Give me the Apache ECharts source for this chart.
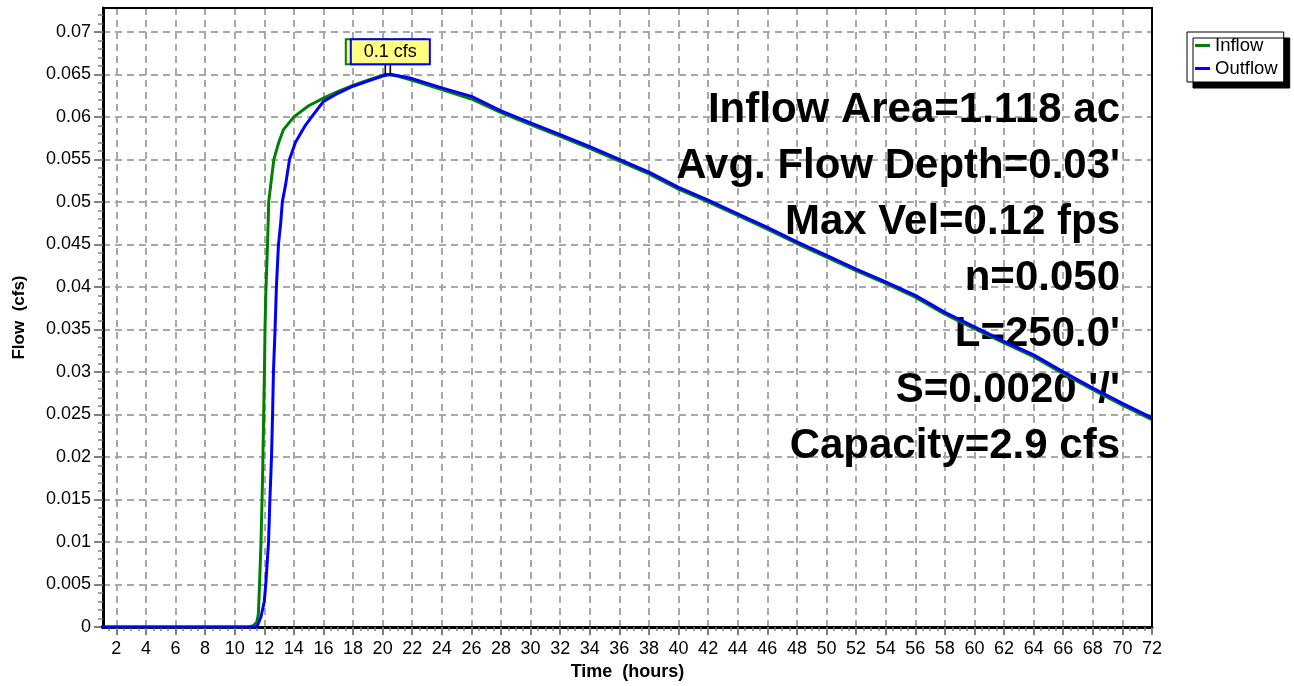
<!DOCTYPE html>
<html>
<head>
<meta charset="utf-8">
<title>Hydrograph</title>
<script src="https://cdn.jsdelivr.net/npm/echarts@6/dist/echarts.min.js"></script>
<style>
  html, body { margin: 0; padding: 0; background: #ffffff; }
  #chart { width: 1294px; height: 686px; }
</style>
</head>
<body>
<div id="chart"></div>
<script>
// Reach hydrograph: inflow vs. routed outflow (cfs) over a 72-hour storm

const inflowHours = [0, 11.0, 11.3, 11.5, 11.6, 11.68, 11.78, 11.89, 11.96, 12.02, 12.05, 12.1, 12.22, 12.3, 12.47, 12.65, 12.98, 13.3, 14.0, 15.0, 16.0, 17.0, 18.0, 19.0, 20.18, 21.0, 22, 24, 26, 28, 30, 32, 34, 36, 38, 40, 42, 44, 46, 48, 50, 52, 54, 56, 58, 60, 62, 64, 66, 68, 70, 72];
const inflowCfs = [0, 0, 0.0002, 0.0006, 0.0015, 0.005, 0.010, 0.018, 0.025, 0.031, 0.035, 0.039, 0.045, 0.050, 0.0525, 0.055, 0.057, 0.0585, 0.0600, 0.0613, 0.0622, 0.0630, 0.0637, 0.0643, 0.0650, 0.0648, 0.0643, 0.0632, 0.0621, 0.0605, 0.0591, 0.0577, 0.0563, 0.0548, 0.0533, 0.0515, 0.0500, 0.0484, 0.0468, 0.0451, 0.0435, 0.0419, 0.0404, 0.0388, 0.0368, 0.0351, 0.0334, 0.0318, 0.0298, 0.0279, 0.0261, 0.0244];

const outflowHours = [0, 11.5, 11.78, 12.0, 12.1, 12.29, 12.38, 12.49, 12.56, 12.62, 12.73, 12.82, 12.96, 13.11, 13.22, 13.44, 13.71, 14.11, 14.78, 15.2, 16.0, 17.0, 18.0, 19.0, 20.0, 20.52, 22, 24, 26, 28, 30, 32, 34, 36, 38, 40, 42, 44, 46, 48, 50, 52, 54, 56, 58, 60, 62, 64, 66, 68, 70, 72];
const outflowCfs = [0, 0, 0.0012, 0.003, 0.005, 0.010, 0.015, 0.020, 0.025, 0.030, 0.035, 0.040, 0.045, 0.0475, 0.050, 0.052, 0.055, 0.057, 0.059, 0.0600, 0.0618, 0.0628, 0.0636, 0.0642, 0.0648, 0.0650, 0.0645, 0.0634, 0.0624, 0.0607, 0.0593, 0.0579, 0.0565, 0.0550, 0.0535, 0.0517, 0.0502, 0.0486, 0.0470, 0.0453, 0.0437, 0.0421, 0.0406, 0.0390, 0.0370, 0.0353, 0.0336, 0.0320, 0.0300, 0.0281, 0.0263, 0.0246];

const timeTickLabels = [2, 4, 6, 8, 10, 12, 14, 16, 18, 20, 22, 24, 26, 28, 30, 32, 34, 36, 38, 40, 42, 44, 46, 48, 50, 52, 54, 56, 58, 60, 62, 64, 66, 68, 70, 72];

const reachNotes = [
  'Inflow Area=1.118 ac',
  "Avg. Flow Depth=0.03'",
  'Max Vel=0.12 fps',
  'n=0.050',
  "L=250.0'",
  "S=0.0020 '/'",
  'Capacity=2.9 cfs'
];

const FONT = '"Liberation Sans", Arial, Helvetica, sans-serif';
const TIME_MIN = 1.1, TIME_MAX = 72;
const FLOW_MAX = 0.0728;

function pairs(xs, ys) { return xs.map((x, i) => [x, ys[i]]); }

// minor tick positions (every half hour / every 0.001 cfs)
const minorTimeTicks = [];
for (let t = 1.5; t <= TIME_MAX + 1e-9; t += 0.5) minorTimeTicks.push(+t.toFixed(2));
const minorFlowTicks = [];
for (let i = 0; i <= 72; i++) minorFlowTicks.push(+(i * 0.001).toFixed(3));

const peakMark = (border) => ({
  symbol: 'rect',
  symbolSize: [1.6, 11],
  symbolOffset: [0, -5.5],
  itemStyle: { color: '#000000' },
  label: {
    show: true,
    position: 'top',
    distance: 0,
    formatter: (p) => p.value.toFixed(1) + ' cfs',
    backgroundColor: '#ffff80',
    borderColor: border,
    borderWidth: 2,
    padding: [3, 12, 2, 12],
    color: '#000000',
    fontFamily: FONT,
    fontSize: 18
  },
  data: [{ type: 'max' }]
});

// plain black frame line on the top / right edges of the plot
const frameAxis = (pos, min, max) => ({
  type: 'value', min: min, max: max, position: pos, z: 5,
  axisLine: { show: true, onZero: false, lineStyle: { color: '#000000', width: 2 } },
  axisTick: { show: false }, axisLabel: { show: false }, splitLine: { show: false }
});

const chart = echarts.init(document.getElementById('chart'), null, { renderer: 'canvas' });

chart.setOption({
  animation: false,
  backgroundColor: '#ffffff',
  grid: {
    left: 103, right: 142, top: 8, bottom: 55,
    show: true, borderColor: '#000000', borderWidth: 0, backgroundColor: '#ffffff'
  },
  legend: {
    data: ['Inflow', 'Outflow'],
    orient: 'vertical',
    left: 1187, top: 32,
    icon: 'rect',
    itemWidth: 15, itemHeight: 3, itemGap: 4,
    padding: [4, 6, 4, 8],
    backgroundColor: '#ffffff',
    borderColor: '#000000', borderWidth: 1,
    shadowColor: '#000000', shadowBlur: 0, shadowOffsetX: 6, shadowOffsetY: 6,
    textStyle: { fontFamily: FONT, fontSize: 18.5, color: '#000000' }
  },
  xAxis: [
    {
      type: 'value', min: TIME_MIN, max: TIME_MAX, position: 'bottom',
      name: 'Time  (hours)', nameLocation: 'middle', nameGap: 36,
      nameTextStyle: { fontFamily: FONT, fontSize: 18, fontWeight: 'bold', color: '#000000' },
      axisLine: { onZero: false, lineStyle: { color: '#000000', width: 3 } },
      axisTick: { show: true, customValues: timeTickLabels, length: 8, lineStyle: { color: '#808080', width: 2 } },
      axisLabel: { customValues: timeTickLabels, fontFamily: FONT, fontSize: 18, color: '#000000', margin: 13 },
      splitLine: { show: true, lineStyle: { color: '#a8a8a8', width: 2, type: [7, 5] } }
    },
    {
      type: 'value', min: TIME_MIN, max: TIME_MAX, position: 'bottom',
      axisLine: { show: false },
      axisTick: { show: true, customValues: minorTimeTicks, length: 4, lineStyle: { color: '#808080', width: 1.5 } },
      axisLabel: { show: false },
      splitLine: { show: false }
    },
    frameAxis('top', TIME_MIN, TIME_MAX)
  ],
  yAxis: [
    {
      type: 'value', min: 0, max: FLOW_MAX, interval: 0.005, position: 'left',
      name: 'Flow  (cfs)', nameLocation: 'middle', nameGap: 75, nameRotate: 90,
      nameTextStyle: { fontFamily: FONT, fontSize: 17, fontWeight: 'bold', color: '#000000' },
      axisLine: { show: true, onZero: false, lineStyle: { color: '#000000', width: 3 } },
      axisTick: { show: true, length: 9, lineStyle: { color: '#808080', width: 2 } },
      axisLabel: { showMaxLabel: false, fontFamily: FONT, fontSize: 18, color: '#000000', margin: 12 },
      splitLine: { show: true, lineStyle: { color: '#a8a8a8', width: 2, type: [7, 5] } }
    },
    {
      type: 'value', min: 0, max: FLOW_MAX, position: 'left',
      axisLine: { show: false },
      axisTick: { show: true, customValues: minorFlowTicks, length: 5, lineStyle: { color: '#808080', width: 1.5 } },
      axisLabel: { show: false },
      splitLine: { show: false }
    },
    frameAxis('right', 0, FLOW_MAX)
  ],
  graphic: reachNotes.map((txt, i) => ({
    type: 'text',
    z: 1,
    silent: true,
    style: {
      text: txt,
      x: 1120,
      y: 110 + i * 56,
      align: 'right',
      verticalAlign: 'middle',
      fontFamily: FONT,
      fontSize: 42,
      fontWeight: 'bold',
      fill: '#000000'
    }
  })),
  series: [
    {
      name: 'Inflow', type: 'line', xAxisIndex: 0, yAxisIndex: 0,
      data: pairs(inflowHours, inflowCfs),
      showSymbol: false, smooth: false,
      lineStyle: { color: '#008000', width: 3 }, itemStyle: { color: '#008000' },
      markPoint: peakMark('#008000')
    },
    {
      name: 'Outflow', type: 'line', xAxisIndex: 0, yAxisIndex: 0,
      data: pairs(outflowHours, outflowCfs),
      showSymbol: false, smooth: false,
      lineStyle: { color: '#0000ff', width: 3 }, itemStyle: { color: '#0000ff' },
      markPoint: peakMark('#0000ff')
    }
  ]
});
</script>
</body>
</html>
